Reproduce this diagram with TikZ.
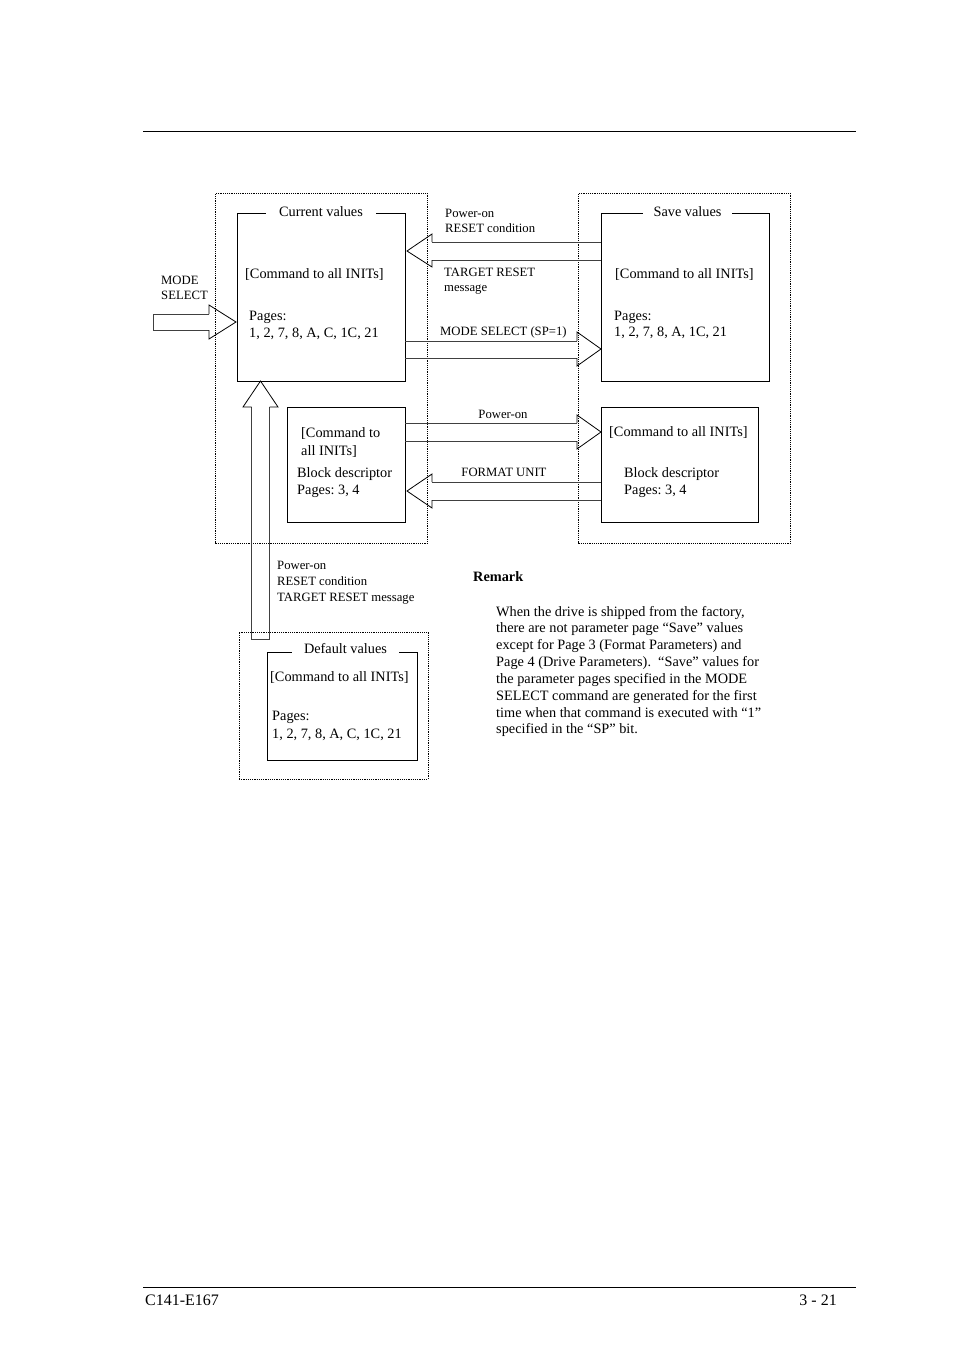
\documentclass[tikz,border=0pt]{standalone}
\usepackage{fontspec}
\setmainfont{Liberation Serif}
\frenchspacing
\begin{document}
\begin{tikzpicture}[x=1pt,y=-1pt,
  big/.style={font=\fontsize{14.3}{16.8}\selectfont, inner sep=0pt},
  small/.style={font=\fontsize{12.7}{15}\selectfont, inner sep=0pt},
  foot/.style={font=\fontsize{16}{19}\selectfont, inner sep=0pt},
  box/.style={draw, line width=1pt, inner sep=0pt, anchor=north west},
  outerbox/.style={draw, line width=0.9pt, dash pattern=on 1.2pt off 1pt, inner sep=0pt, anchor=north west},
  boxtitle/.style={big, fill=white, inner ysep=3pt, anchor=base},
  shaftln/.style={draw=black!75, line width=1pt},
  headln/.style={draw=black, line width=0.8pt},
  rule/.style={line width=1pt}
]
\useasboundingbox (0,0) rectangle (954,1351);

% page rules
\coordinate (r1a) at (143,132); \coordinate (r1b) at (856,132);
\coordinate (r2a) at (143,1287); \coordinate (r2b) at (856,1287);
\draw[rule] (r1a) -- (r1b);
\draw[rule] (r2a) -- (r2b);
\node[foot, anchor=base west] (fl) at (145,1305) {C141-E167};
\node[foot, anchor=base east] (fr) at (837,1305) {3 - 21};

% dotted outer boxes
\node[outerbox, minimum width=212pt, minimum height=350pt] (curO) at (215,193) {};
\node[outerbox, minimum width=212pt, minimum height=350pt] (savO) at (578,193) {};
\node[outerbox, minimum width=189pt, minimum height=147pt] (defO) at (238.5,631.5) {};

% solid boxes
\node[box, minimum width=168pt, minimum height=168pt] (cur) at (237,213) {};
\node[box, minimum width=168pt, minimum height=168pt] (sav) at (601,213) {};
\node[box, minimum width=118pt, minimum height=115pt] (blkc) at (287,407) {};
\node[box, minimum width=157pt, minimum height=115pt] (blks) at (601,407) {};
\node[box, minimum width=150pt, minimum height=108pt] (def) at (266.5,651.5) {};

% box titles
\node[boxtitle, inner xsep=13pt] (curT) at (321,216.5) {Current values};
\node[boxtitle, inner xsep=11pt] (savT) at (687.5,216.5) {Save values};
\node[boxtitle, inner xsep=12pt] (defT) at (345.5,653) {Default values};

% current values text
\node[big, anchor=base west] (c1) at (245,278) {[Command to all INITs]};
\node[big, anchor=base west] (c2) at (249,320) {Pages:};
\node[big, anchor=base west] (c3) at (249,337) {1, 2, 7, 8, A, C, 1C, 21};

% save values text
\node[big, anchor=base west] (s1) at (615,278) {[Command to all INITs]};
\node[big, anchor=base west] (s2) at (614,320) {Pages:};
\node[big, anchor=base west] (s3) at (614,336) {1, 2, 7, 8, A, 1C, 21};

% block descriptor (current)
\node[big, anchor=base west] (b1) at (301,437) {[Command to};
\node[big, anchor=base west] (b2) at (301,455) {all INITs]};
\node[big, anchor=base west] (b3) at (297,477) {Block descriptor};
\node[big, anchor=base west] (b4) at (297,494) {Pages: 3, 4};

% block descriptor (save)
\node[big, anchor=base west] (d1) at (609,436) {[Command to all INITs]};
\node[big, anchor=base west] (d2) at (624,477) {Block descriptor};
\node[big, anchor=base west] (d3) at (624,494) {Pages: 3, 4};

% default values text
\node[big, anchor=base west] (e1) at (270,681) {[Command to all INITs]};
\node[big, anchor=base west] (e2) at (272,720) {Pages:};
\node[big, anchor=base west] (e3) at (272,738) {1, 2, 7, 8, A, C, 1C, 21};

% arrow labels
\node[small, anchor=base west] (m1) at (161,284) {MODE};
\node[small, anchor=base west] (m2) at (161,299) {SELECT};
\node[small, anchor=base west] (p1) at (445,217) {Power-on};
\node[small, anchor=base west] (p2) at (445,233) {RESET condition};
\node[small, anchor=base west] (t1) at (444,276) {TARGET RESET};
\node[small, anchor=base west] (t2) at (444,291) {message};
\node[small, anchor=base west] (ms) at (440,335) {MODE SELECT (SP=1)};
\node[small, anchor=base] (po) at (503,418) {Power-on};
\node[small, anchor=base] (fu) at (504,476) {FORMAT UNIT};
\node[small, anchor=base west] (v1) at (277,569) {Power-on};
\node[small, anchor=base west] (v2) at (277,585) {RESET condition};
\node[small, anchor=base west] (v3) at (277,601) {TARGET RESET message};

% remark
\node[big, anchor=base west, font=\fontsize{14.3}{16.8}\selectfont\bfseries] (rk) at (473,581) {Remark};
\node[big, anchor=base west] (r1) at (496,616) {When the drive is shipped from the factory,};
\node[big, anchor=base west] (r2) at (496,632.85) {there are not parameter page “Save” values};
\node[big, anchor=base west] (r3) at (496,649.7) {except for Page 3 (Format Parameters) and};
\node[big, anchor=base west] (r4) at (496,666.55) {Page 4 (Drive Parameters).\ \ “Save” values for};
\node[big, anchor=base west] (r5) at (496,683.4) {the parameter pages specified in the MODE};
\node[big, anchor=base west] (r6) at (496,700.25) {SELECT command are generated for the first};
\node[big, anchor=base west] (r7) at (496,717.1) {time when that command is executed with “1”};
\node[big, anchor=base west] (r8) at (496,733.95) {specified in the “SP” bit.};

% block arrows
% MODE SELECT input (closed tail)
\draw[shaftln] (209,314) -- (153,314) -- (153,330) -- (209,330);
\draw[headln] (209,314) -- (209,305) -- (236,322) -- (209,339) -- (209,330);
% Save -> Current (Power-on / RESET / TARGET RESET)
\draw[shaftln] (432,242) -- (601,242) (601,260) -- (432,260);
\draw[headln] (432,242) -- (432,234) -- (407,251) -- (432,267) -- (432,260);
% MODE SELECT (SP=1): Current -> Save
\draw[shaftln] (405,341) -- (577,341) (405,358) -- (577,358);
\draw[headln] (577,341) -- (577,332) -- (601,349) -- (577,366) -- (577,358);
% Power-on: block current -> block save
\draw[shaftln] (405,423) -- (577,423) (405,441) -- (577,441);
\draw[headln] (577,423) -- (577,415) -- (601,432) -- (577,449) -- (577,441);
% FORMAT UNIT: block save -> block current
\draw[shaftln] (601,482) -- (432,482) (432,500) -- (601,500);
\draw[headln] (432,482) -- (432,474) -- (407,491) -- (432,508) -- (432,500);
% Default -> Current (vertical)
\draw[shaftln] (251.5,407) -- (251.5,639) -- (269.5,639) -- (269.5,407);
\draw[headln] (251.5,407) -- (243,407) -- (260.5,381) -- (278,407) -- (269.5,407);
\end{tikzpicture}
\end{document}
